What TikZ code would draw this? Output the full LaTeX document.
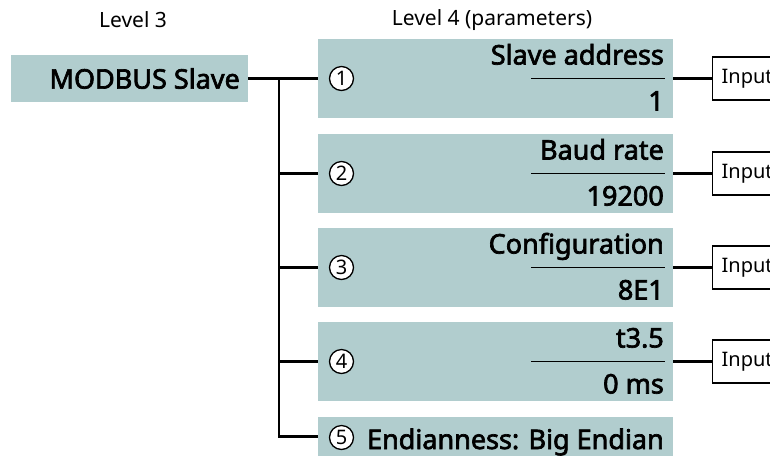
\documentclass[tikz,border=0pt]{standalone}
\usepackage{fontspec}
\setmainfont{Noto Sans}
\newfontfamily\medfont{Noto Sans}[FakeBold=2.5]
\usetikzlibrary{positioning,calc}
\definecolor{parfill}{RGB}{177,205,206}
\tikzset{
  lvlbox/.style = {fill=parfill, minimum width=237pt, minimum height=47pt, inner sep=0pt},
  parbox/.style = {fill=parfill, minimum width=355pt, minimum height=79pt, inner sep=0pt},
  num/.style    = {circle, draw, line width=1.3pt, fill=white, minimum size=24pt,
                   inner sep=0pt, font=\fontsize{20}{20}\selectfont},
  wire/.style   = {line width=2.4pt},
  rule/.style   = {line width=1.5pt},
  inbox/.style  = {draw, line width=1.2pt, fill=white, anchor=west, minimum height=43pt,
                   inner xsep=9pt, text width=70pt, align=left,
                   font=\fontsize{20}{20}\selectfont},
  big/.style    = {inner sep=0pt, font=\medfont\fontsize{27}{27}\selectfont},
  hdr/.style    = {font=\fontsize{21}{21}\selectfont},
}
\begin{document}
\begin{tikzpicture}[x=1pt,y=-1pt]
  \useasboundingbox (0,0) rectangle (770,459);
  \clip (0,0) rectangle (770,459);
  % headers
  \node[hdr] (lvl3) at (133,20) {Level 3};
  \node[hdr] (lvl4) at (492,20) {Level 4 (parameters)};
  % level 3
  \node[lvlbox] (slave) at (129.5,78.5) {};
  \node[big, anchor=east] (slavetxt) at (240,78.5) {MODBUS Slave};
  \coordinate (fork) at (279,78.5);
  % level 4
  \foreach \i/\y/\name/\val in {1/78.5/Slave address/1, 2/173.5/Baud rate/19200,
      3/267.5/Configuration/8E1, 4/361.5/t3.5/0 ms} {
    \node[parbox] (p\i) at (495.5,\y) {};
    \node[num] (c\i) at (341.5,\y) {\i};
    \node[big, anchor=base east] (n\i) at (664,\y-14) {\name};
    \node[big, anchor=base east] (v\i) at (664,\y+32) {\val};
    \draw[rule] (531,\y) -- (665,\y);
    \node[inbox] (in\i) at (712,\y) {Input};
    \draw[wire] (p\i.east) -- (in\i.west);
  }
  \node[parbox, minimum height=39pt] (p5) at (495.5,436.5) {};
  \node[num] (c5) at (341.5,437.5) {5};
  \node[big, anchor=base east] (n5) at (664,449) {Endianness: Big Endian};
  % connectors
  \draw[wire] (slave.east) -- (p1.west);
  \foreach \i in {2,3,4,5}
    \draw[wire] (fork) |- (p\i.west);
\end{tikzpicture}
\end{document}
